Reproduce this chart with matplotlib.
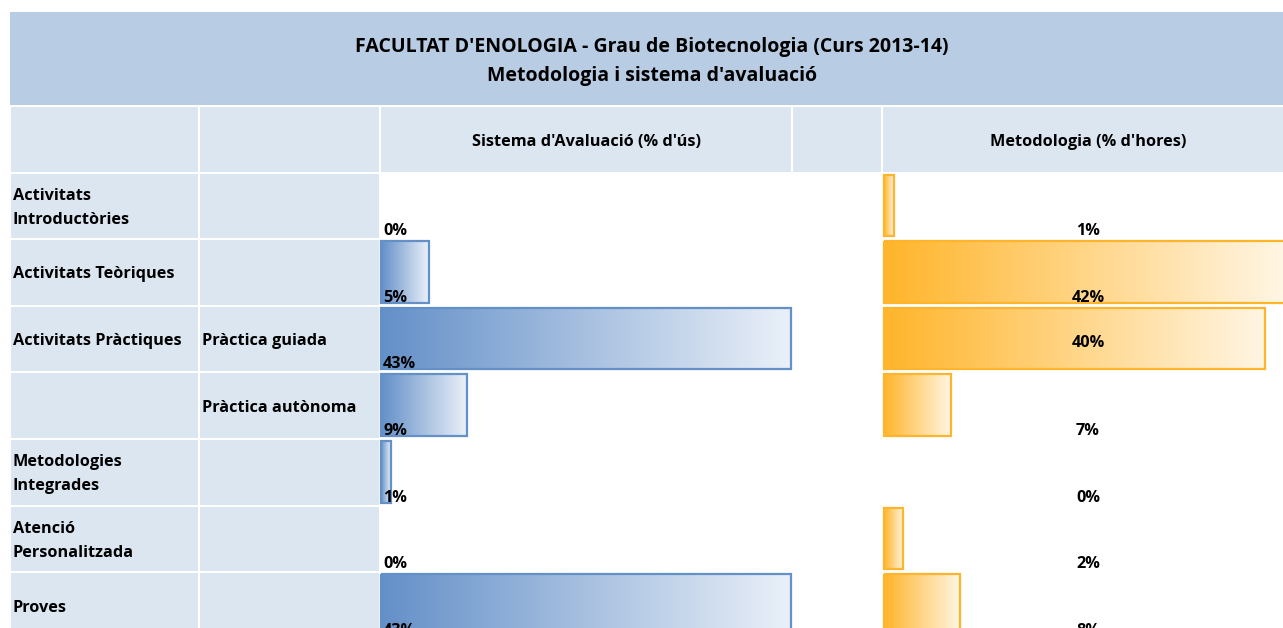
import numpy as np
import matplotlib.pyplot as plt
from matplotlib.patches import Rectangle
from matplotlib.colors import LinearSegmentedColormap

#=======================================================
# Data
#=======================================================

title = ["FACULTAT D'ENOLOGIA - Grau de Biotecnologia (Curs 2013-14)",
         "Metodologia i sistema d'avaluació"]
col_headers = ["Sistema d'Avaluació (% d'ús)", "Metodologia (% d'hores)"]

categories = ["Activitats\nIntroductòries", "Activitats Teòriques", "Activitats Pràctiques",
              "", "Metodologies\nIntegrades", "Atenció\nPersonalitzada", "Proves"]
subcategories = ["", "", "Pràctica guiada", "Pràctica autònoma", "", "", ""]

avaluacio = [0, 5, 43, 9, 1, 0, 43]      # % d'ús
metodologia = [1, 42, 40, 7, 0, 2, 8]    # % d'hores

#=======================================================
# Layout (pixels)
#=======================================================

W, H = 1283, 628
cols = [10, 199, 380, 792, 882, 1294]    # column edges
band_top, head_top, row_h = 12, 106, 66.6
bar_span = 410                           # length of the largest bar

c_band = '#b8cce4'
c_cell = '#dce6f1'
blue, blue_light = '#6490c8', '#eaf0f8'
orange, orange_light = '#ffb52b', '#fff6e4'

plt.rcParams['font.family'] = ['Open Sans', 'DejaVu Sans']
fs = 11.7
fs_title = 14

fig = plt.figure(figsize=(W / 100, H / 100), dpi=100)
ax = fig.add_axes([0, 0, 1, 1])
ax.set_xlim(0, W)
ax.set_ylim(H, 0)
ax.axis('off')


def cell(x0, x1, y0, y1, color):
    ax.add_patch(Rectangle((x0 + 1, y0 + 1), x1 - x0 - 2, y1 - y0 - 2,
                           facecolor=color, edgecolor='none', zorder=1))


def bar(x0, length, y0, y1, c0, c1):
    if length <= 0:
        return
    cmap = LinearSegmentedColormap.from_list('g', [c0, c1])
    grad = np.linspace(0, 1, 256).reshape(1, -1)
    ax.imshow(grad, cmap=cmap, extent=(x0, x0 + length, y1, y0),
              aspect='auto', interpolation='bicubic', zorder=2)
    ax.add_patch(Rectangle((x0, y0), length, y1 - y0, facecolor='none',
                           edgecolor=c0, linewidth=1.6, zorder=3))


# title band
ax.add_patch(Rectangle((cols[0], band_top), W - cols[0], head_top - band_top - 1,
                       facecolor=c_band, edgecolor='none', zorder=1))
ax.text((cols[0] + cols[-1]) / 2, 47, title[0], ha='center', va='center',
        fontsize=fs_title, fontweight='bold', zorder=4)
ax.text((cols[0] + cols[-1]) / 2, 76, title[1], ha='center', va='center',
        fontsize=fs_title, fontweight='bold', zorder=4)

# header row
for i in range(len(cols) - 1):
    cell(cols[i], cols[i + 1], head_top, head_top + row_h, c_cell)
ax.text((cols[2] + cols[3]) / 2, head_top + row_h / 2 + 3, col_headers[0],
        ha='center', va='center', fontsize=fs, fontweight='bold', zorder=4)
ax.text((cols[4] + cols[5]) / 2, head_top + row_h / 2 + 3, col_headers[1],
        ha='center', va='center', fontsize=fs, fontweight='bold', zorder=4)

scale = bar_span / max(max(avaluacio), max(metodologia))

for r in range(len(categories)):
    y0 = head_top + row_h * (r + 1)
    y1 = y0 + row_h
    ym = (y0 + y1) / 2
    cell(cols[0], cols[1], y0, y1, c_cell)
    cell(cols[1], cols[2], y0, y1, c_cell)

    ax.text(cols[0] + 3, ym + 2, categories[r], ha='left', va='center',
            fontsize=fs, fontweight='bold', linespacing=1.65, zorder=4)
    ax.text(cols[1] + 3, ym + 2, subcategories[r], ha='left', va='center',
            fontsize=fs, fontweight='bold', zorder=4)

    # sistema d'avaluació
    v = avaluacio[r]
    bar(cols[2] + 1, v * scale, y0 + 2, y1 - 3, blue, blue_light)
    ax.text(cols[2] + 3, y1, f'{v}%', ha='left', va='bottom',
            fontsize=fs, fontweight='bold', zorder=4)

    # metodologia: the 40% cell is centred vertically, the rest sit at the bottom
    v = metodologia[r]
    bar(cols[4] + 2, v * scale, y0 + 2, y1 - 3, orange, orange_light)
    if r == 2:
        ax.text((cols[4] + cols[5]) / 2, ym + 4, f'{v}%', ha='center', va='center',
                fontsize=fs, fontweight='bold', zorder=4)
    else:
        ax.text((cols[4] + cols[5]) / 2, y1, f'{v}%', ha='center', va='bottom',
                fontsize=fs, fontweight='bold', zorder=4)

ax.set_xlim(0, W)
ax.set_ylim(H, 0)

plt.savefig('out.png', dpi=100)
